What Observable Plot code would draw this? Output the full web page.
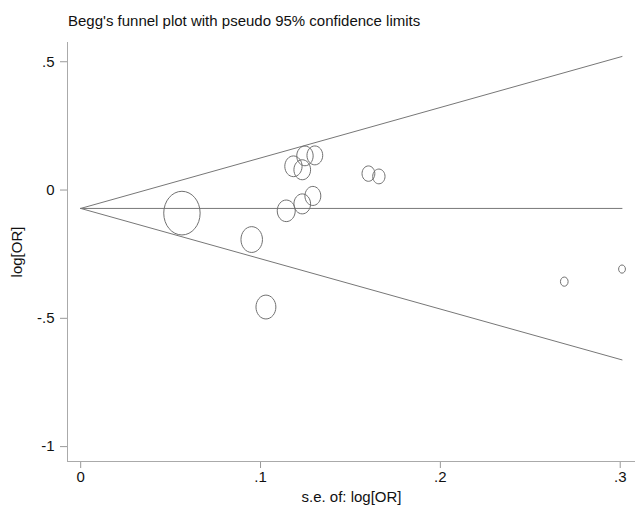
<!DOCTYPE html>
<html>
<head>
<meta charset="utf-8">
<script src="https://cdn.jsdelivr.net/npm/d3@7"></script>
<script src="https://cdn.jsdelivr.net/npm/@observablehq/plot@0.6"></script>
<style>
  html, body { margin: 0; padding: 0; background: #fff; }
  #wrap { width: 635px; height: 507px; position: relative; }
  #title { height: 34px; box-sizing: border-box; padding-left: 68px; padding-top: 12px;
           font: 15px "Liberation Sans", Arial, sans-serif; color: #111; white-space: nowrap; line-height: 17px; }
  svg { display: block; }
</style>
</head>
<body>
<div id="wrap">
  <div id="title">Begg's funnel plot with pseudo 95% confidence limits</div>
  <div id="chart"></div>
</div>
<script>
// study data
const se     = [0.0563, 0.0951, 0.1030, 0.1143, 0.1232, 0.1291, 0.1183, 0.1232, 0.1247, 0.1302, 0.1600, 0.1658, 0.2689, 0.3010];
const logOR  = [-0.090, -0.193, -0.456, -0.081, -0.054, -0.023, 0.0925, 0.079, 0.133, 0.135, 0.064, 0.053, -0.357, -0.308];
const weight = [315, 110, 94, 77, 66, 60, 71, 66, 64, 59, 39, 36, 14, 11];

// funnel lines (pooled estimate and pseudo 95% limits)
const lineSe     = [0, 0.301];
const centerLine = [-0.0717, -0.0717];
const upperLine  = [-0.0717, 0.5205];
const lowerLine  = [-0.0717, -0.662];

// ticks
const xTicks = [0, 0.1, 0.2, 0.3];
const xTickLabels = ["0", ".1", ".2", ".3"];
const yTicks = [0.5, 0, -0.5, -1];
const yTickLabels = [".5", "0", "-.5", "-1"];

const studies = se.map((s, i) => ({se: s, lor: logOR[i], w: weight[i]}));
const mkLine = (ys) => lineSe.map((s, i) => ({se: s, lor: ys[i]}));

// ellipse symbol (circles appear slightly taller than wide in the original)
const ellipse = {
  draw(ctx, size) {
    const r = Math.sqrt(size / Math.PI), rx = r, ry = r * 1.2, k = 0.5523;
    ctx.moveTo(rx, 0);
    ctx.bezierCurveTo(rx, ry * k, rx * k, ry, 0, ry);
    ctx.bezierCurveTo(-rx * k, ry, -rx, ry * k, -rx, 0);
    ctx.bezierCurveTo(-rx, -ry * k, -rx * k, -ry, 0, -ry);
    ctx.bezierCurveTo(rx * k, -ry, rx, -ry * k, rx, 0);
    ctx.closePath();
  }
};

const fmt = (ticks, labels) => (d) => labels[ticks.findIndex(t => Math.abs(t - d) < 1e-9)];

const chart = Plot.plot({
  width: 635,
  height: 473,
  marginTop: 8,
  marginBottom: 46,
  marginLeft: 67,
  marginRight: 0,
  style: {fontFamily: "'Liberation Sans', Arial, sans-serif", fontSize: "15px", color: "#111", background: "#fff"},
  x: {domain: [-0.00733, 0.3085]},
  y: {domain: [-1.058, 0.575]},
  r: {type: "sqrt", domain: [0, 315], range: [0, 18.2]},
  marks: [
    Plot.axisX({ticks: xTicks, tickFormat: fmt(xTicks, xTickLabels), tickSize: 7, tickPadding: 3,
                stroke: "#999", label: "s.e. of: log[OR]", labelAnchor: "center", labelArrow: "none", labelOffset: 40}),
    Plot.axisY({ticks: yTicks, tickFormat: fmt(yTicks, yTickLabels), tickSize: 7, tickPadding: 6,
                stroke: "#999", label: "log[OR]", labelAnchor: "center", labelArrow: "none", labelOffset: 56}),
    Plot.ruleX([-0.00733], {stroke: "#aaa"}),
    Plot.ruleY([-1.058], {stroke: "#aaa"}),
    Plot.line(mkLine(centerLine), {x: "se", y: "lor", stroke: "#777", strokeWidth: 1}),
    Plot.line(mkLine(upperLine), {x: "se", y: "lor", stroke: "#777", strokeWidth: 1}),
    Plot.line(mkLine(lowerLine), {x: "se", y: "lor", stroke: "#777", strokeWidth: 1}),
    Plot.dot(studies, {x: "se", y: "lor", r: "w", symbol: ellipse, stroke: "#707070", strokeWidth: 1, fill: "none"})
  ]
});
document.getElementById("chart").appendChild(chart);
</script>
</body>
</html>
